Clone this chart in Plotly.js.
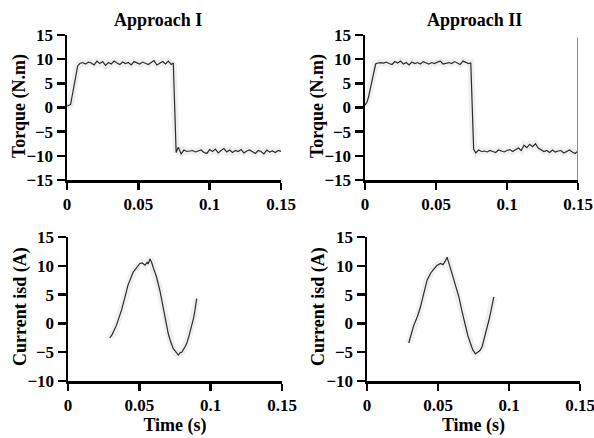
<!DOCTYPE html>
<html>
<head>
<meta charset="utf-8">
<script src="https://cdn.plot.ly/plotly-3.0.1.min.js"></script>
<style>html,body{margin:0;padding:0;background:#fff;}#chart{width:594px;height:438px;}</style>
</head>
<body>
<div id="chart"></div>
<script>
// ---- data ----
var panelTitles = ["Approach I", "Approach II"];
var torqueTitle = "Torque (N.m)";
var currentTitle = "Current isd (A)";
var timeTitle = "Time (s)";
var xTickVals = [0, 0.05, 0.1, 0.15];
var xTickText = ["0", "0.05", "0.1", "0.15"];
var torqueTickVals = [-15, -10, -5, 0, 5, 10, 15];
var currentTickVals = [-10, -5, 0, 5, 10, 15];

var torqueTime = [0, 0.0015, 0.0025, 0.0075,
  0.009, 0.011, 0.013, 0.015, 0.017, 0.019, 0.021, 0.023, 0.025, 0.027, 0.029, 0.031,
  0.033, 0.035, 0.037, 0.039, 0.041, 0.043, 0.045, 0.047, 0.049, 0.051, 0.053, 0.055,
  0.057, 0.059, 0.061, 0.063, 0.065, 0.067, 0.069, 0.071, 0.073, 0.0745,
  0.0765, 0.078, 0.080, 0.082, 0.084, 0.086, 0.088, 0.090, 0.092, 0.094, 0.096, 0.098,
  0.100, 0.102, 0.104, 0.106, 0.108, 0.110, 0.112, 0.114, 0.116, 0.118, 0.120, 0.122,
  0.124, 0.126, 0.128, 0.130, 0.132, 0.134, 0.136, 0.138, 0.140, 0.142, 0.144, 0.146,
  0.148, 0.150];

var torqueA1 = [0.3, 0.4, 0.6, 8.6,
  9.1, 9.3, 9.0, 9.4, 9.2, 8.8, 9.6, 9.1, 9.5, 8.7, 9.3, 9.0,
  9.6, 9.2, 8.9, 9.4, 9.1, 9.3, 8.8, 9.5, 9.2, 9.0, 9.4, 9.1,
  8.9, 9.3, 9.7, 8.8, 9.2, 9.5, 9.0, 9.6, 8.9, 9.2,
  -9.3, -8.2, -9.6, -8.8, -9.1, -9.0, -8.9, -9.2, -9.0, -8.8, -9.3, -9.5,
  -8.7, -9.1, -8.6, -9.4, -8.9, -8.5, -9.2, -8.8, -9.3, -8.9, -9.1, -8.7,
  -9.4, -9.0, -8.8, -9.2, -9.5, -8.9, -9.1, -9.6, -8.8, -9.2, -9.0, -9.3,
  -8.9, -9.1];

var torqueA2 = [0.5, 1.2, 2.2, 9.0,
  9.2, 9.3, 9.2, 9.4, 9.1, 8.9, 9.5, 9.2, 9.6, 9.0, 9.3, 8.8,
  9.4, 9.1, 9.3, 9.0, 9.5, 9.2, 9.0, 9.3, 9.1, 9.4, 9.6, 9.0,
  9.2, 9.3, 9.1, 9.5, 9.2, 8.9, 9.6, 9.3, 9.1, 9.2,
  -8.6, -9.4, -8.8, -9.1, -9.0, -9.2, -8.9, -9.1, -9.3, -8.8, -9.0, -9.2,
  -8.9, -8.7, -9.1, -8.8, -8.4, -8.9, -7.8, -8.3, -7.6, -8.1, -7.5, -8.4,
  -8.7, -9.1, -8.9, -9.3, -8.8, -9.2, -9.0, -8.9, -9.4, -9.1, -8.8, -9.2,
  -9.5, -9.0];

var currentTime1 = [0.0293, 0.031, 0.034, 0.0375, 0.040, 0.042, 0.0457, 0.048, 0.0504, 0.052,
  0.054, 0.0555, 0.0562, 0.0575, 0.0586, 0.060, 0.062, 0.0645, 0.0668, 0.0685, 0.0703,
  0.072, 0.0738, 0.0755, 0.0773, 0.0785, 0.0797, 0.0815, 0.0832, 0.085, 0.0867, 0.088,
  0.089, 0.0902];
var currentA1 = [-2.5, -1.9, -0.3, 2.3, 4.6, 6.6, 8.9, 9.7, 10.4, 10.5,
  10.1, 10.6, 10.3, 11.2, 10.6, 9.5, 8.1, 5.6, 2.8, 0.6, -1.8,
  -3.2, -4.4, -4.9, -5.5, -5.1, -5.0, -4.3, -3.5, -2.0, -0.6, 0.9,
  2.3, 4.3];

var currentTime2 = [0.0294, 0.031, 0.033, 0.0355, 0.0376, 0.040, 0.0423, 0.045, 0.047, 0.049,
  0.0517, 0.0535, 0.0553, 0.0564, 0.058, 0.060, 0.0625, 0.0647, 0.067, 0.0694, 0.071,
  0.0729, 0.0745, 0.0764, 0.078, 0.0795, 0.081, 0.0823, 0.084, 0.0858, 0.0875, 0.0893];
var currentA2 = [-3.4, -1.9, -0.3, 1.2, 2.8, 5.2, 7.5, 8.8, 9.5, 10.0,
  10.4, 10.2, 10.9, 11.5, 10.2, 8.6, 6.6, 4.6, 2.0, -0.6, -2.1,
  -3.5, -4.6, -5.3, -5.0, -4.7, -4.1, -2.9, -1.3, 0.5, 2.4, 4.6];

var rightEdgeTime = [0.15, 0.15];
var rightEdgeValue = [-15, 14.5];

// ---- plot ----
var lineColor = "#2b2b2b";
var serif = "Liberation Serif, Times New Roman, serif";
function line(x, y, xa, ya) {
  return {x: x, y: y, xaxis: xa, yaxis: ya, type: "scatter", mode: "lines",
    line: {color: lineColor, width: 1.2}, hoverinfo: "skip", showlegend: false};
}
function haze(x, y, xa, ya) {
  return {x: x, y: y, xaxis: xa, yaxis: ya, type: "scatter", mode: "lines",
    line: {color: "rgba(0,0,0,0.06)", width: 7}, hoverinfo: "skip", showlegend: false};
}
var traces = [
  haze(torqueTime, torqueA1, "x", "y"),
  line(torqueTime, torqueA1, "x", "y"),
  haze(torqueTime, torqueA2, "x2", "y2"),
  line(torqueTime, torqueA2, "x2", "y2"),
  {x: rightEdgeTime, y: rightEdgeValue, xaxis: "x2", yaxis: "y2", type: "scatter", mode: "lines",
    line: {color: "#8a8a8a", width: 2}, hoverinfo: "skip", showlegend: false, cliponaxis: false},
  haze(currentTime1, currentA1, "x3", "y3"),
  line(currentTime1, currentA1, "x3", "y3"),
  haze(currentTime2, currentA2, "x4", "y4"),
  line(currentTime2, currentA2, "x4", "y4")
];

var tickFont = {family: serif, size: 17, color: "#000", weight: "bold"};
var titleFont = {family: serif, size: 18, color: "#000", weight: "bold"};

function xax(domain, anchor, withTitle) {
  var a = {domain: domain, anchor: anchor, range: [0, 0.15], tickvals: xTickVals, ticktext: xTickText,
    showline: true, linecolor: "#000", linewidth: 2.5, ticks: "outside", ticklen: 7, tickwidth: 2.5,
    tickcolor: "#000", showgrid: false, zeroline: false, tickfont: tickFont, fixedrange: true,
    ticklabeloverflow: "allow"};
  if (withTitle) a.title = {text: timeTitle, font: titleFont, standoff: 4};
  return a;
}
function yax(domain, anchor, range, vals) {
  return {domain: domain, anchor: anchor, range: range, tickvals: vals,
    showline: true, linecolor: "#000", linewidth: 2.5, ticks: "outside", ticklen: 8, tickwidth: 2.5,
    tickcolor: "#000", showgrid: false, zeroline: false, tickfont: tickFont, fixedrange: true,
    ticklabeloverflow: "allow"};
}
function ann(text, px, py, angle) {
  return {text: text, x: px / 594, y: 1 - py / 438, xref: "paper", yref: "paper",
    showarrow: false, font: titleFont, xanchor: "center", yanchor: "middle", textangle: angle};
}

var topDom = [1 - 180 / 438, 1 - 35 / 438];
var botDom = [1 - 381 / 438, 1 - 237 / 438];

var layout = {
  width: 594, height: 438,
  margin: {l: 0, r: 0, t: 0, b: 0},
  paper_bgcolor: "#fff", plot_bgcolor: "#fff",
  xaxis: xax([67 / 594, 281 / 594], "y", false),
  yaxis: yax(topDom, "x", [-15, 15], torqueTickVals),
  xaxis2: xax([365 / 594, 578 / 594], "y2", false),
  yaxis2: yax(topDom, "x2", [-15, 15], torqueTickVals),
  xaxis3: xax([68 / 594, 282 / 594], "y3", true),
  yaxis3: yax(botDom, "x3", [-10, 15], currentTickVals),
  xaxis4: xax([367 / 594, 580 / 594], "y4", true),
  yaxis4: yax(botDom, "x4", [-10, 15], currentTickVals),
  annotations: [
    ann(panelTitles[0], 158, 20, 0),
    ann(panelTitles[1], 474, 20, 0),
    ann(torqueTitle, 20, 106, -90),
    ann(torqueTitle, 318, 106, -90),
    ann(currentTitle, 20, 307, -90),
    ann(currentTitle, 318, 307, -90)
  ]
};

Plotly.newPlot("chart", traces, layout, {displayModeBar: false, staticPlot: true});
</script>
</body>
</html>
